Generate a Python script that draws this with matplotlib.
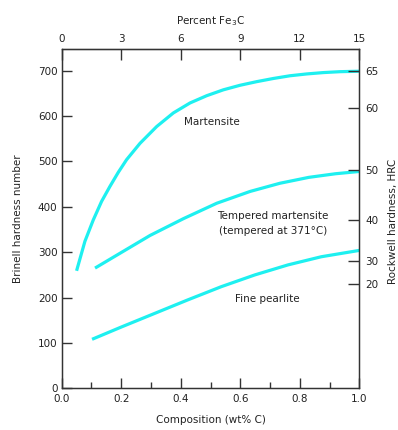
import matplotlib
matplotlib.use("Agg")
import matplotlib.pyplot as plt

plt.rcParams['font.family'] = ['DejaVu Sans']
plt.rcParams['font.size'] = 7.5

# values
mart_x = [0.050, 0.078, 0.106, 0.134, 0.162, 0.190, 0.218, 0.263, 0.319, 0.375, 0.431,
          0.487, 0.543, 0.599, 0.655, 0.711, 0.767, 0.823, 0.879, 0.935, 1.0]
mart_hb = [259, 324, 371, 412, 445, 476, 504, 540, 577, 607, 629,
           645, 658, 668, 676, 683, 689, 693, 696, 698, 699]
temp_x = [0.112, 0.207, 0.297, 0.409, 0.521, 0.633, 0.733, 0.830, 0.920, 1.0]
temp_hb = [265, 302, 337, 374, 408, 434, 452, 465, 473, 478]
pearl_x = [0.102, 0.200, 0.312, 0.424, 0.536, 0.649, 0.760, 0.872, 1.0]
pearl_hb = [108, 135, 165, 195, 224, 250, 272, 290, 304]

hrc_labels = ['65', '60', '50', '40', '30', '20']
hrc_pos = [700, 617, 482, 372, 280, 231]
fe3c_ticks = [0, 3, 6, 9, 12, 15]

txt = '#222222'
cyan = '#1ef0f0'

fig = plt.figure(figsize=(3.98, 4.30), dpi=100)
ax = fig.add_axes([0.155, 0.097, 0.748, 0.788])

for xs, ys in [(mart_x, mart_hb), (temp_x, temp_hb), (pearl_x, pearl_hb)]:
    ax.plot(xs, ys, color=cyan, lw=2.3, solid_capstyle='butt', solid_joinstyle='round')

ax.text(0.505, 586, 'Martensite', ha='center', va='center', color=txt)
ax.text(0.709, 380, 'Tempered martensite', ha='center', va='center', color=txt)
ax.text(0.709, 346, '(tempered at 371\u00b0C)', ha='center', va='center', color=txt)
ax.text(0.692, 197, 'Fine pearlite', ha='center', va='center', color=txt)

ax.set_xlim(0, 1.0)
ax.set_ylim(0, 747)
ax.set_xticks([0.0, 0.2, 0.4, 0.6, 0.8, 1.0])
ax.set_xticklabels(['0.0', '0.2', '0.4', '0.6', '0.8', '1.0'])
ax.set_xticks([0.1, 0.3, 0.5, 0.7, 0.9], minor=True)
ax.set_yticks([0, 100, 200, 300, 400, 500, 600, 700])
ax.tick_params(axis='x', which='major', direction='in', length=7, width=1, pad=4, colors='#333333', labelcolor=txt)
ax.tick_params(axis='x', which='minor', direction='in', length=4, width=1, colors='#333333')
ax.tick_params(axis='y', direction='in', length=7, width=1, pad=3, colors='#333333', labelcolor=txt)
ax.set_xlabel('Composition (wt% C)', color=txt, labelpad=8)
ax.set_ylabel('Brinell hardness number', color=txt, labelpad=11)

for s in ax.spines.values():
    s.set_color('#333333')
    s.set_linewidth(1.0)

top = ax.secondary_xaxis('top', functions=(lambda x: x * 15, lambda x: x / 15))
top.set_xticks(fe3c_ticks)
top.tick_params(direction='in', length=8, width=1, pad=4, colors='#333333', labelcolor=txt)
top.set_xlabel('Percent Fe$_3$C', color=txt, labelpad=7)

right = ax.twinx()
right.set_ylim(ax.get_ylim())
right.set_yticks(hrc_pos)
right.set_yticklabels(hrc_labels)
right.tick_params(direction='in', length=8, width=1, pad=4, colors='#333333', labelcolor=txt)
for s in right.spines.values():
    s.set_color('#333333')

fig.text(0.987, 1 - 221 / 430, 'Rockwell hardness, HRC', rotation=90,
         ha='center', va='center', color=txt)

fig.savefig('out.png', dpi=100)
